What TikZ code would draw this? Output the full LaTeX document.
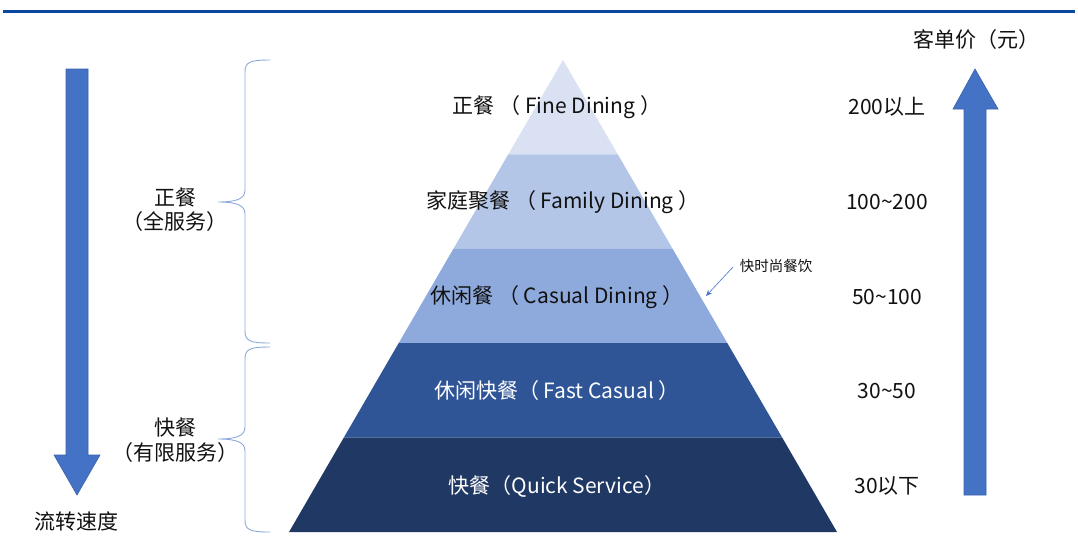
\documentclass[tikz,border=0pt]{standalone}
\usepackage{fontspec}
\setmainfont{Noto Sans CJK SC}
\usetikzlibrary{arrows.meta}
\definecolor{topline}{HTML}{0A47A0}
\definecolor{arrowblue}{HTML}{4472C4}
\definecolor{arrowedge}{HTML}{3A62AE}
\definecolor{braceblue}{HTML}{8EAADB}
\definecolor{layA}{HTML}{D9E1F2}
\definecolor{layB}{HTML}{B4C6E7}
\definecolor{layC}{HTML}{8EA9DB}
\definecolor{layD}{HTML}{2F5597}
\definecolor{layE}{HTML}{203864}
\definecolor{txt}{HTML}{111111}
\tikzset{
  lbl/.style={font=\fontsize{21}{25}\selectfont, text=txt, inner sep=0pt},
  wlbl/.style={font=\fontsize{21}{25}\selectfont, text=white, inner sep=0pt},
  small/.style={font=\fontsize{14.5}{17}\selectfont, text=txt, inner sep=0pt},
  bigarrow/.style={fill=arrowblue, draw=arrowedge, line width=0.6pt},
  bracestyle/.style={draw=braceblue, line width=0.9pt},
}
\begin{document}
\begin{tikzpicture}[x=1pt,y=-1pt]
\useasboundingbox (0,0) rectangle (1078,550);
\fill[white] (0,0) rectangle (1078,550);
% top rule
\fill[topline] (3,9.5) rectangle (1075,12.5);

% pyramid layers
\fill[layA] (563,60) -- (617.8,154.4) -- (508.2,154.4) -- cycle;
\fill[layB] (508.2,154.4) -- (617.8,154.4) -- (672.6,248.8) -- (453.4,248.8) -- cycle;
\fill[layC] (453.4,248.8) -- (672.6,248.8) -- (727.4,343.2) -- (398.6,343.2) -- cycle;
\fill[layD] (398.6,343.2) -- (727.4,343.2) -- (782.2,437.6) -- (343.8,437.6) -- cycle;
\fill[layE] (343.8,437.6) -- (782.2,437.6) -- (837,532) -- (289,532) -- cycle;

% pyramid labels
\node[lbl] (l1) at (557,107) {正餐 （ Fine Dining ）};
\node[lbl] (l2) at (563,202) {家庭聚餐 （ Family Dining ）};
\node[lbl] (l3) at (557,297) {休闲餐 （ Casual Dining ）};
\node[wlbl] (l4) at (557,391) {休闲快餐（ Fast Casual ）};
\node[wlbl] (l5) at (557,486) {快餐（Quick Service）};

% annotation
\node[small] (ann) at (776,266) {快时尚餐饮};
\coordinate (annTip) at (706,296);
\draw[arrowblue, line width=0.6pt, -{Stealth[length=6pt,width=5pt]}] (733,267) -- (annTip);

% prices
\node[lbl] (p1) at (887,107) {200以上};
\node[lbl] (p2) at (887,202) {100\textasciitilde200};
\node[lbl] (p3) at (887,297) {50\textasciitilde100};
\node[lbl] (p4) at (887,391) {30\textasciitilde50};
\node[lbl] (p5) at (887,486) {30以下};

% left arrow (down)
\draw[bigarrow] (66,69) -- (88,69) -- (88,455) -- (100,455) -- (77,495) -- (54,455) -- (66,455) -- cycle;
\node[lbl] (speed) at (76,521) {流转速度};

% right arrow (up)
\draw[bigarrow] (964,495) -- (986,495) -- (986,109) -- (998,109) -- (975,69) -- (953,109) -- (964,109) -- cycle;
\node[lbl] (price) at (976,40) {客单价（元）};

% braces
\draw[bracestyle] (270,60) .. controls (250,60) and (245,62) .. (245,72) -- (245,190)
  .. controls (245,199) and (236,202) .. (218,202)
  .. controls (236,202) and (245,205) .. (245,214) -- (245,331)
  .. controls (245,341) and (250,343) .. (270,343);
\draw[bracestyle] (270,347) .. controls (250,347) and (245,349) .. (245,359) -- (245,427)
  .. controls (245,436) and (236,439) .. (218,439)
  .. controls (236,439) and (245,442) .. (245,451) -- (245,520)
  .. controls (245,530) and (250,532) .. (270,532);

% brace labels
\node[lbl] (g1a) at (175,197) {正餐};
\node[lbl] (g1b) at (175,222) {（全服务）};
\node[lbl] (g2a) at (175,428) {快餐};
\node[lbl] (g2b) at (175,453) {（有限服务）};
\end{tikzpicture}
\end{document}
